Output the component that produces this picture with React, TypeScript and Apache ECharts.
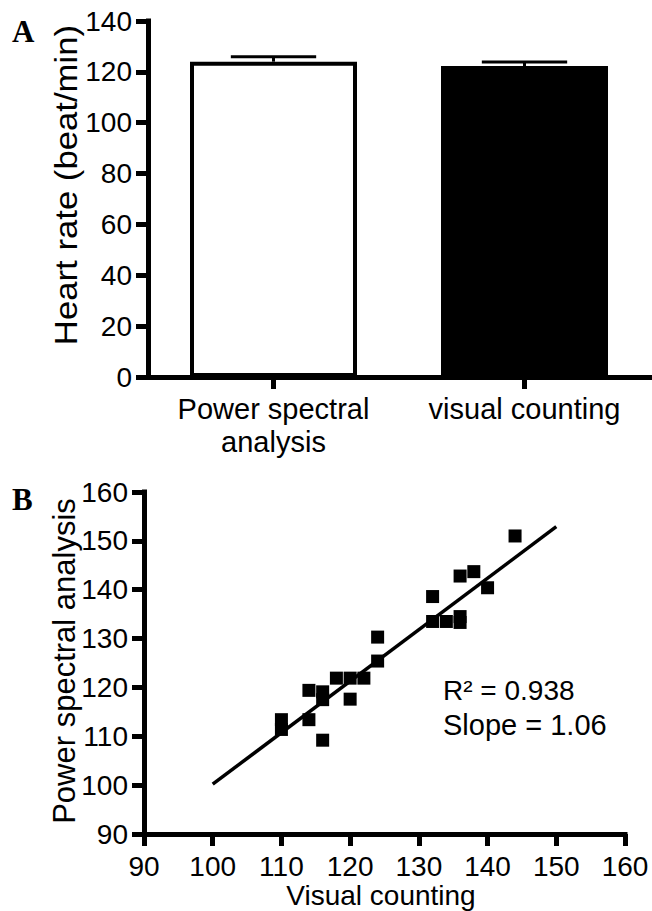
import React, { useEffect, useRef } from "react";
import * as echarts from "echarts";

// Panel A data
const barCategories = ["Power spectral\nanalysis", "visual counting"];
const barMeans = [124, 122.3];
const barErrors = [1.9, 1.6];
const barYMin = 0;
const barYMax = 140;
const barYStep = 20;

// Panel B data
const scatterX = [144, 138, 136, 140, 132, 132, 134, 136, 136, 124, 124, 122, 120, 118, 114, 116, 116, 120, 110, 110, 114, 116];
const scatterY = [151, 143.7, 142.8, 140.4, 138.6, 133.5, 133.5, 134.5, 133.3, 130.3, 125.4, 121.9, 121.9, 121.9, 119.4, 119.1, 117.5, 117.6, 113.4, 111.4, 113.4, 109.2];
const fitX = [100, 150];
const fitY = [100.2, 152.9];
const scatterMin = 90;
const scatterMax = 160;
const scatterStep = 10;

const FONT = "Liberation Sans, Arial, sans-serif";
const SERIF = "Liberation Serif, Times New Roman, serif";

const mkLine = () => ({ show: true, onZero: false, lineStyle: { color: "#000", width: 5, type: "solid" as const, cap: "square" as const } });
const mkTick = () => ({ show: true, inside: false, length: 12, lineStyle: { color: "#000", width: 5, type: "solid" as const } });
const mkLabel = (margin: number, extra: any = {}) => ({ show: true, color: "#000", fontFamily: FONT, fontSize: 28, margin, ...extra });

export default function App() {
  const ref = useRef<HTMLDivElement>(null);
  useEffect(() => {
    if (!ref.current) return;
    const chart = echarts.init(ref.current, null, { renderer: "svg" });
    chart.setOption({
      animation: false,
      backgroundColor: "#fff",
      grid: [
        { left: 148, top: 21, right: 2, height: 356 },
        { left: 144, top: 492, right: 27, bottom: 77 },
      ],
      xAxis: [
        {
          gridIndex: 0,
          type: "category",
          data: barCategories,
          boundaryGap: true,
          axisLine: mkLine(),
          axisTick: { ...mkTick(), alignWithLabel: true },
          axisLabel: mkLabel(15, { fontSize: 29, lineHeight: 33, interval: 0 }),
          splitLine: { show: false },
        },
        {
          gridIndex: 1,
          type: "value",
          min: scatterMin,
          max: scatterMax,
          interval: scatterStep,
          axisLine: mkLine(),
          axisTick: mkTick(),
          axisLabel: mkLabel(18),
          splitLine: { show: false },
        },
      ],
      yAxis: [
        {
          gridIndex: 0,
          type: "value",
          min: barYMin,
          max: barYMax,
          interval: barYStep,
          axisLine: mkLine(),
          axisTick: mkTick(),
          axisLabel: mkLabel(16),
          splitLine: { show: false },
        },
        {
          gridIndex: 1,
          type: "value",
          min: scatterMin,
          max: scatterMax,
          interval: scatterStep,
          axisLine: mkLine(),
          axisTick: mkTick(),
          axisLabel: mkLabel(16),
          splitLine: { show: false },
        },
      ],
      series: [
        {
          type: "bar",
          xAxisIndex: 0,
          yAxisIndex: 0,
          barWidth: 167,
          data: barMeans.map((v, i) =>
            i === 0
              ? { value: v, itemStyle: { color: "#fff", borderColor: "#000", borderWidth: 4 } }
              : { value: v, itemStyle: { color: "#000", borderColor: "#000", borderWidth: 0 } }
          ),
          z: 2,
        },
        {
          type: "custom",
          xAxisIndex: 0,
          yAxisIndex: 0,
          data: barMeans.map((v, i) => [i, v, barErrors[i]]),
          encode: { x: 0, y: 1 },
          z: 3,
          renderItem: (params: any, api: any) => {
            const i = api.value(0);
            const v = api.value(1);
            const e = api.value(2);
            const base = api.coord([i, v]);
            const top = api.coord([i, v + e]);
            const w = api.size([1, 0])[0] * 0.34;
            return {
              type: "group",
              children: [
                { type: "line", shape: { x1: base[0], y1: base[1], x2: top[0], y2: top[1] }, style: { stroke: "#000", lineWidth: 3 } },
                { type: "line", shape: { x1: top[0] - w / 2, y1: top[1], x2: top[0] + w / 2, y2: top[1] }, style: { stroke: "#000", lineWidth: 3 } },
              ],
            };
          },
        },
        {
          type: "line",
          xAxisIndex: 1,
          yAxisIndex: 1,
          data: fitX.map((x, i) => [x, fitY[i]]),
          showSymbol: false,
          symbol: "none",
          lineStyle: { color: "#000", width: 3.5 },
          z: 2,
        },
        {
          type: "scatter",
          xAxisIndex: 1,
          yAxisIndex: 1,
          symbol: "rect",
          symbolSize: 13,
          data: scatterX.map((x, i) => [x, scatterY[i]]),
          itemStyle: { color: "#000", opacity: 1 },
          z: 3,
        },
      ],
      graphic: [
        { type: "text", left: 12, top: 16, style: { text: "A", font: `bold 31px ${SERIF}`, fill: "#000" } },
        { type: "text", left: 12, top: 484, style: { text: "B", font: `bold 31px ${SERIF}`, fill: "#000" } },
        {
          type: "text",
          x: 66,
          y: 185,
          rotation: Math.PI / 2,
          scaleX: 1.12,
          style: { text: "Heart rate (beat/min)", font: `31px ${FONT}`, fill: "#000", align: "center", verticalAlign: "middle" },
        },
        {
          type: "text",
          x: 64,
          y: 661,
          rotation: Math.PI / 2,
          style: { text: "Power spectral analysis", font: `31px ${FONT}`, fill: "#000", align: "center", verticalAlign: "middle" },
        },
        {
          type: "text",
          x: 381,
          y: 895,
          style: { text: "Visual counting", font: `28px ${FONT}`, fill: "#000", align: "center", verticalAlign: "middle" },
        },
        {
          type: "text",
          x: 443,
          y: 690,
          style: { text: "R\u00B2 = 0.938", font: `28px ${FONT}`, fill: "#000", align: "left", verticalAlign: "middle" },
        },
        {
          type: "text",
          x: 443,
          y: 725,
          style: { text: "Slope = 1.06", font: `29px ${FONT}`, fill: "#000", align: "left", verticalAlign: "middle" },
        },
      ],
    });
    return () => chart.dispose();
  }, []);
  return <div ref={ref} style={{ position: "fixed", left: 0, top: 0, width: 652, height: 911, background: "#fff" }} />;
}
